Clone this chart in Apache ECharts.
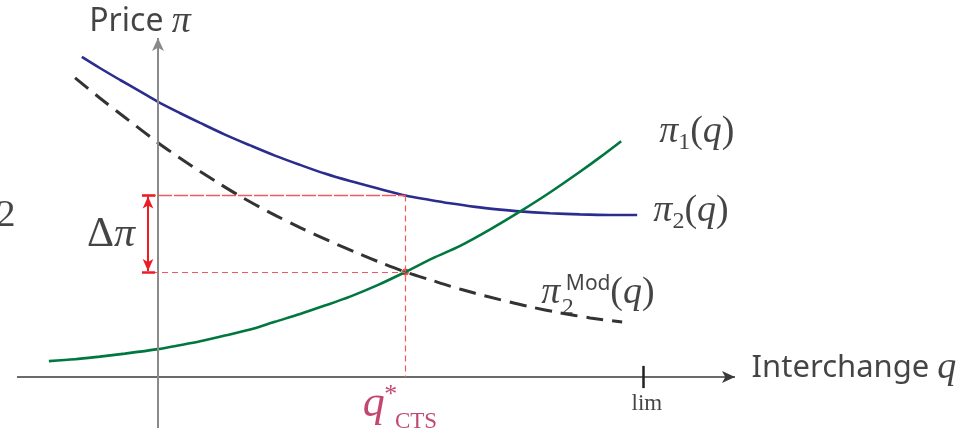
<!DOCTYPE html>
<html>
<head>
<meta charset="utf-8">
<script src="https://cdn.jsdelivr.net/npm/echarts@6/dist/echarts.min.js"></script>
<style>
  html, body { margin: 0; padding: 0; background: #ffffff; }
  #chart { width: 971px; height: 435px; }
</style>
</head>
<body>
<div id="chart"></div>
<script>
// Price curves over interchange q (q in units where lim = 10)
const pi2Q   = [-1.57, -1.20, -0.78, -0.37, 0.00, 0.45, 0.87, 1.38, 1.90, 2.41, 2.93, 3.44, 3.96, 4.54, 5.10, 5.61, 6.02, 6.54, 7.05, 7.46, 8.08, 8.70, 9.32, 9.88];
const pi2Val = [10.67, 10.30, 9.90, 9.52, 9.17, 8.80, 8.47, 8.08, 7.72, 7.38, 7.07, 6.78, 6.53, 6.28, 6.05, 5.90, 5.79, 5.67, 5.58, 5.52, 5.46, 5.42, 5.40, 5.40];

const pi2ModQ   = [-1.71, -1.20, -0.68, 0.00, 0.45, 0.87, 1.28, 1.69, 2.31, 2.93, 3.55, 4.17, 4.58, 5.10, 5.61, 6.02, 6.54, 7.05, 7.67, 8.29, 8.91, 9.57];
const pi2ModVal = [9.97, 9.30, 8.65, 7.81, 7.30, 6.85, 6.43, 6.03, 5.48, 4.98, 4.52, 4.09, 3.82, 3.50, 3.24, 3.03, 2.79, 2.58, 2.34, 2.14, 1.97, 1.83];

const pi1Q   = [-2.25, -1.71, -1.20, -0.68, 0.00, 0.45, 0.87, 1.38, 1.90, 2.41, 2.93, 3.44, 3.96, 4.54, 5.10, 5.67, 6.23, 6.85, 7.46, 8.08, 8.70, 9.11, 9.55];
const pi1Val = [0.53, 0.59, 0.68, 0.78, 0.93, 1.06, 1.19, 1.38, 1.58, 1.84, 2.10, 2.38, 2.68, 3.07, 3.50, 3.96, 4.37, 4.92, 5.51, 6.15, 6.84, 7.32, 7.86];

// Market-coupling point and price spread
const qStar = 5.1;
const qLim = 10;
const piHigh = 6.05;
const piLow = 3.5;
const tickLabels = ['lim'];

// Axis extents (origin of the diagram sits at the crossing of the two arrows)
const X_MIN = -158 / 48.5, X_MAX = 813 / 48.5;
const Y_MIN = -58 / 30,    Y_MAX = 377 / 30;

const pairs = (xs, ys) => xs.map((x, i) => [x, ys[i]]);

const SERIF = '"Liberation Serif", "DejaVu Serif", serif';
const SANS = '"Noto Sans", "Open Sans", sans-serif';
const INK = '#151515';
const RED = '#ec1c24';
const GUIDE = '#f2585e';
const CRIMSON = '#b3194c';

const rich = {
  it:   { fontFamily: SERIF, fontStyle: 'italic', fontSize: 38, color: INK, lineHeight: 46 },
  rm:   { fontFamily: SERIF, fontSize: 38, color: INK, lineHeight: 46 },
  bigit:{ fontFamily: SERIF, fontStyle: 'italic', fontSize: 42, color: INK, lineHeight: 48 },
  bigrm:{ fontFamily: SERIF, fontSize: 42, color: INK, lineHeight: 48 },
  sub:  { fontFamily: SERIF, fontSize: 24, color: INK, lineHeight: 24, verticalAlign: 'bottom' },
  sans: { fontFamily: SANS, fontSize: 32, color: INK, lineHeight: 46 },
  sans2:{ fontFamily: SANS, fontSize: 31, color: INK, lineHeight: 46 },
  gap:  { width: 50, lineHeight: 46 }
};

function textAt(q, p, formatter, extra) {
  return {
    value: [q, p],
    label: Object.assign({
      show: true, position: 'inside', align: 'center', verticalAlign: 'middle',
      formatter: formatter, rich: rich
    }, extra || {})
  };
}

function mline(a, b, style) {
  const first = { coord: a };
  if (style) first.lineStyle = style;
  return [first, { coord: b }];
}

const option = {
  animation: false,
  backgroundColor: '#ffffff',
  grid: { left: 0, right: 0, top: 0, bottom: 0 },
  xAxis: { type: 'value', min: X_MIN, max: X_MAX, show: false },
  yAxis: { type: 'value', min: Y_MIN, max: Y_MAX, show: false },
  series: [
    {
      name: 'axes', type: 'line', data: [], silent: true,
      markLine: {
        silent: true, symbol: ['none', 'arrow'], symbolSize: [9, 13],
        label: { show: false },
        lineStyle: { color: '#3a3a3a', width: 1.5, type: 'solid' },
        emphasis: { disabled: true },
        data: [
          mline([-141 / 48.5, 0], [577 / 48.5, 0]),
          mline([0, -51 / 30], [0, 339 / 30], { color: '#8a8a8a', width: 2, type: 'solid' })
        ]
      }
    },
    {
      name: 'limTick', type: 'line', data: [], silent: true,
      markLine: {
        silent: true, symbol: ['none', 'none'],
        label: { show: false },
        lineStyle: { color: '#222222', width: 2.5, type: 'solid' },
        data: [ mline([qLim, 0.37], [qLim, -0.37]) ]
      }
    },
    {
      name: 'guides', type: 'line', data: [], silent: true,
      markLine: {
        silent: true, symbol: ['none', 'none'],
        label: { show: false },
        lineStyle: { color: GUIDE, width: 1.2, type: [6, 4] },
        data: [
          mline([-0.33, piHigh], [qStar, piHigh], { color: GUIDE, width: 1.3, type: [14, 2] }),
          mline([-0.33, piLow], [qStar, piLow]),
          mline([qStar, piHigh], [qStar, 0])
        ]
      }
    },
    {
      name: 'pi2', type: 'line', data: pairs(pi2Q, pi2Val), smooth: 0.3,
      showSymbol: false, silent: true,
      lineStyle: { color: '#2b2d8e', width: 2.6 }
    },
    {
      name: 'pi2Mod', type: 'line', data: pairs(pi2ModQ, pi2ModVal), smooth: 0.3,
      showSymbol: false, silent: true,
      lineStyle: { color: '#333333', width: 3, type: [17, 9] }
    },
    {
      name: 'pi1', type: 'line', data: pairs(pi1Q, pi1Val), smooth: 0.3,
      showSymbol: false, silent: true,
      lineStyle: { color: '#00773f', width: 2.6 }
    },
    {
      name: 'spread', type: 'line', data: [], silent: true,
      markLine: {
        silent: true, symbol: ['arrow', 'arrow'], symbolSize: [8, 12],
        label: { show: false },
        lineStyle: { color: RED, width: 2, type: 'solid' },
        data: [ mline([-0.206, piHigh - 0.03], [-0.206, piLow + 0.03]) ]
      }
    },
    {
      name: 'caps', type: 'line', data: [], silent: true,
      markLine: {
        silent: true, symbol: ['none', 'none'],
        label: { show: false },
        lineStyle: { color: RED, width: 2.5, type: 'solid' },
        data: [
          mline([-0.33, piHigh], [-0.06, piHigh]),
          mline([-0.33, piLow], [-0.06, piLow])
        ]
      }
    },
    {
      name: 'equilibrium', type: 'scatter', silent: true,
      symbol: 'circle', symbolSize: 7,
      itemStyle: { color: RED },
      data: [[qStar, piLow]]
    },
    {
      name: 'labels', type: 'scatter', silent: true, symbolSize: 0,
      data: [
        textAt(-0.37, 11.83, '{sans|Price }{it|π}'),
        textAt(14.35, 0.30, '{sans2|Interchange }{it|q}'),
        textAt(qLim + 0.08, -0.9, tickLabels[0], { fontFamily: SERIF, fontSize: 23, color: INK }),
        textAt(-0.97, 4.72, '{bigrm|Δ}{bigit|π}'),
        textAt(-3.134, 5.37, '{rm|2}'),
        textAt(11.11, 8.17, '{it|π}{sub|1}{rm|(}{it|q}{rm|)}'),
        textAt(10.99, 5.53, '{it|π}{sub|2}{rm|(}{it|q}{rm|)}'),
        textAt(9.07, 2.80, '{it|π}{gap|}{rm|(}{it|q}{rm|)}'),
        textAt(8.45, 2.30, '2', { fontFamily: SERIF, fontSize: 24, color: INK }),
        textAt(8.87, 3.10, 'Mod', { fontFamily: SANS, fontSize: 21, color: INK }),
        textAt(4.45, -0.93, 'q', { fontFamily: SERIF, fontStyle: 'italic', fontSize: 44, color: CRIMSON }),
        textAt(4.80, -0.60, '*', { fontFamily: SERIF, fontSize: 26, color: CRIMSON }),
        textAt(5.32, -1.50, 'CTS', { fontFamily: SERIF, fontSize: 23, color: CRIMSON })
      ]
    }
  ]
};

const chart = echarts.init(document.getElementById('chart'), null, { renderer: 'canvas' });
chart.setOption(option);
</script>
</body>
</html>
